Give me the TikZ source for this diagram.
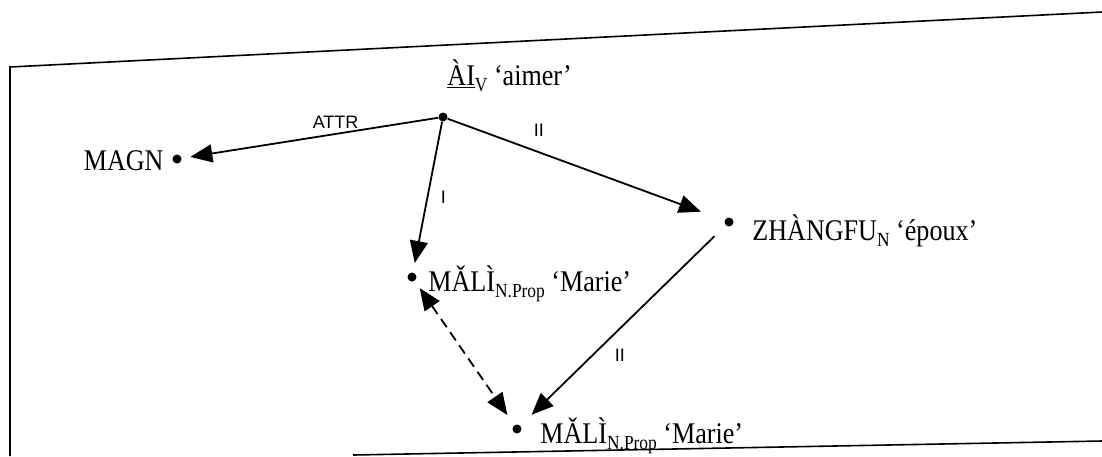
\documentclass[tikz,border=0pt]{standalone}
\usepackage{fontspec}
\setmainfont{Liberation Serif}[FakeStretch=0.87]
\newfontfamily\relfont{Liberation Sans}
\usetikzlibrary{arrows.meta,positioning}
\newcommand{\lsub}[1]{\raisebox{-3pt}{\fontsize{10}{10}\selectfont #1}}

\begin{document}
\begin{tikzpicture}[x=0.5pt,y=-0.5pt,>={Triangle[length=11pt,width=9pt]},
  dot/.style={circle,fill,inner sep=0pt,minimum size=4.5pt},
  word/.style={font=\fontsize{15}{18}\selectfont,inner sep=0pt},
  rel/.style={font=\relfont\fontsize{9}{10}\selectfont,inner sep=1pt},
  arc/.style={->,line width=0.9pt}]
\useasboundingbox (0,0) rectangle (1102,456);
% --- frame ---
\draw[line width=0.8pt] (1102,12) -- (10,67) -- (10,456);
\draw[line width=0.8pt] (353,455) -- (1102,441);
% --- nodes ---
\node[dot] (ai)    at (443,117) {};
\node[dot] (magn)  at (177,159) {};
\node[dot] (mali)  at (412,277) {};
\node[dot] (zhang) at (729,222) {};
\node[dot] (maliz) at (517,429) {};
% --- words ---
\node[word,anchor=base west] (ailab)    at (447,85)  {\underline{ÀI}\lsub{V} ‘aimer’};
\node[word,anchor=base east] (magnlab)  at (164,170) {MAGN};
\node[word,anchor=base west] (malilab)  at (428,291) {MǍLÌ\lsub{N.Prop} ‘Marie’};
\node[word,anchor=base west] (zhanglab) at (752,240) {ZHÀNGFU\lsub{N} ‘époux’};
\node[word,anchor=base west] (malizlab) at (540,443) {MǍLÌ\lsub{N.Prop} ‘Marie’};
% --- relations ---
\draw[arc,shorten >=4.3pt] (ai) -- (magn) node[rel,pos=0.4,above=1.4pt]{ATTR};
\draw[arc,shorten >=4.7pt] (ai) -- (mali) node[rel,midway,right=5.2pt]{I};
\draw[arc,shorten >=12.5pt] (ai) -- (zhang) node[rel,pos=0.33,above=6.4pt]{II};
\draw[arc,shorten <=7.7pt,shorten >=7.7pt] (zhang) -- (maliz) node[rel,pos=0.65,right=9.8pt]{II};
% --- coreference ---
\draw[arc,<->,dashed,dash pattern=on 5pt off 3pt,shorten <=4.3pt,shorten >=6pt] (mali) -- (maliz);
\end{tikzpicture}
\end{document}
